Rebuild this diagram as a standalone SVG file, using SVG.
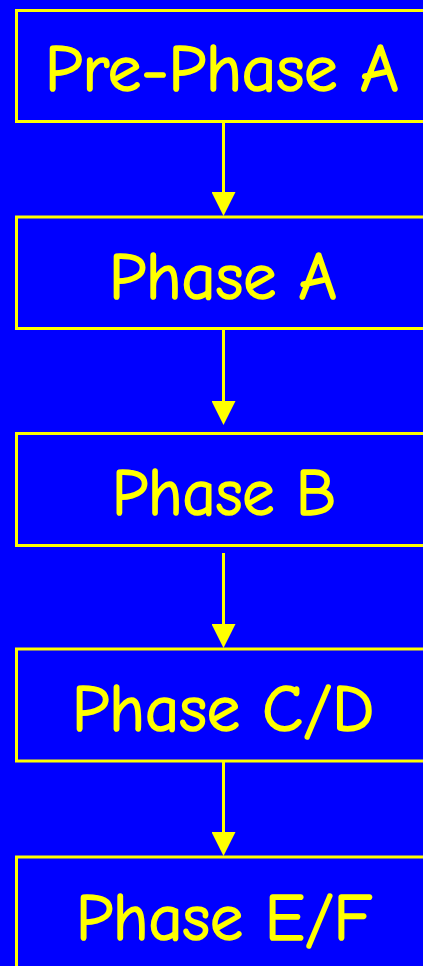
<svg xmlns="http://www.w3.org/2000/svg" width="423" height="966" viewBox="0 0 423 966">
  <style>
    .box { fill: none; stroke: #FFFF00; stroke-width: 3; }
    .label { fill: #FFFF00; stroke: #FFFF00; stroke-width: 1.6; stroke-linejoin: round; font-family: "Comic Sans MS", "Comic Neue", Lato, sans-serif; font-size: 67px; text-anchor: middle; }
    .link { stroke: #FFFF00; stroke-width: 3; fill: none; marker-end: url(#head); }
  </style>
  <defs>
    <marker id="head" viewBox="0 0 24 24" refX="0" refY="12" markerWidth="24" markerHeight="24" markerUnits="userSpaceOnUse" orient="auto">
      <path d="M0,0 L24,12 L0,24 z" fill="#FFFF00"/>
    </marker>
  </defs>
  <rect width="423" height="966" fill="#0000FF"/>

  <g id="pre-phase-a">
    <rect class="box" x="16.5" y="10.5" width="430" height="111"/>
    <text class="label" x="222" y="91" textLength="354" lengthAdjust="spacingAndGlyphs">Pre-Phase A</text>
  </g>
  <g id="phase-a">
    <rect class="box" x="16.5" y="217" width="430" height="111.5"/>
    <text class="label" x="223" y="299" textLength="228" lengthAdjust="spacingAndGlyphs">Phase A</text>
  </g>
  <g id="phase-b">
    <rect class="box" x="16.5" y="433.5" width="430" height="112"/>
    <text class="label" x="224" y="515" textLength="224" lengthAdjust="spacingAndGlyphs">Phase B</text>
  </g>
  <g id="phase-cd">
    <rect class="box" x="16.5" y="649" width="430" height="112"/>
    <text class="label" x="223" y="731" textLength="302" lengthAdjust="spacingAndGlyphs">Phase C/D</text>
  </g>
  <g id="phase-ef">
    <rect class="box" x="16.5" y="857" width="430" height="130"/>
    <text class="label" x="224" y="940" textLength="296" lengthAdjust="spacingAndGlyphs">Phase E/F</text>
  </g>

  <g id="connectors">
    <line class="link" x1="223.5" y1="121.5" x2="223.5" y2="192"/>
    <line class="link" x1="223.5" y1="328.5" x2="223.5" y2="401"/>
    <line class="link" x1="223.5" y1="553" x2="223.5" y2="624"/>
    <line class="link" x1="223.5" y1="761" x2="223.5" y2="832"/>
  </g>
</svg>
